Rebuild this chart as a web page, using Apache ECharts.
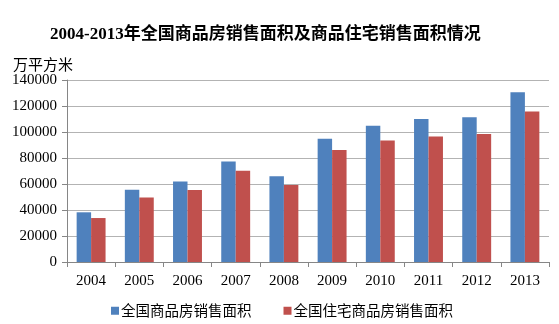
<!DOCTYPE html>
<html>
<head>
<meta charset="utf-8">
<script src="https://cdn.jsdelivr.net/npm/echarts@6/dist/echarts.min.js"></script>
<style>
  html, body { margin: 0; padding: 0; background: #fff; }
  #chart { width: 559px; height: 324px; }
</style>
</head>
<body>
<div id="chart"></div>
<script>
// Floor area of commodity housing sold nationwide, 2004-2013 (10k m²)
const years = ['2004', '2005', '2006', '2007', '2008', '2009', '2010', '2011', '2012', '2013'];
const totalSales = [38232, 55486, 61857, 77355, 65970, 94755, 104765, 109946, 111304, 130551];
const residentialSales = [33820, 49588, 55423, 70136, 59280, 86185, 93377, 96528, 98468, 115723];
const yTicks = { min: 0, max: 140000, step: 20000 };

const serif = '"Liberation Serif", "Times New Roman", "Noto Sans CJK SC", serif';
const cjk = '"Noto Sans CJK SC", "Liberation Serif", sans-serif';

const chart = echarts.init(document.getElementById('chart'), null, { renderer: 'canvas' });
chart.setOption({
  animation: false,
  backgroundColor: '#ffffff',
  title: [
    {
      text: '2004-2013年全国商品房销售面积及商品住宅销售面积情况',
      left: 45,
      top: 21,
      textStyle: { fontFamily: serif, fontSize: 17, fontWeight: 'bold', color: '#000' }
    },
    {
      text: '万平方米',
      left: 8,
      top: 52,
      textStyle: { fontFamily: cjk, fontSize: 15, fontWeight: 'normal', color: '#000' }
    }
  ],
  legend: {
    bottom: 1,
    left: 106,
    itemWidth: 8,
    itemHeight: 8,
    itemGap: 32,
    icon: 'rect',
    textStyle: { fontFamily: cjk, fontSize: 14.5, color: '#000', padding: [0, 0, 0, -3] },
    data: ['全国商品房销售面积', '全国住宅商品房销售面积']
  },
  grid: { left: 67, right: 10, top: 80, bottom: 62 },
  xAxis: {
    type: 'category',
    data: years,
    axisLine: { lineStyle: { color: '#868686' } },
    axisTick: { show: true, length: 5, lineStyle: { color: '#868686' } },
    axisLabel: { fontFamily: serif, fontSize: 15, color: '#000', margin: 12 }
  },
  yAxis: {
    type: 'value',
    min: yTicks.min,
    max: yTicks.max,
    interval: yTicks.step,
    axisLine: { show: true, lineStyle: { color: '#868686' } },
    axisTick: { show: true, length: 5, lineStyle: { color: '#868686' } },
    axisLabel: {
      fontFamily: serif, fontSize: 15, color: '#000', margin: 10,
      formatter: (v) => String(v)
    },
    splitLine: { lineStyle: { color: '#b3b3b3' } }
  },
  series: [
    {
      name: '全国商品房销售面积',
      type: 'bar',
      data: totalSales,
      barGap: '0%',
      barCategoryGap: '40%',
      itemStyle: { color: '#4F81BD' }
    },
    {
      name: '全国住宅商品房销售面积',
      type: 'bar',
      data: residentialSales,
      barGap: '0%',
      barCategoryGap: '40%',
      itemStyle: { color: '#C0504D' }
    }
  ]
});
</script>
</body>
</html>
